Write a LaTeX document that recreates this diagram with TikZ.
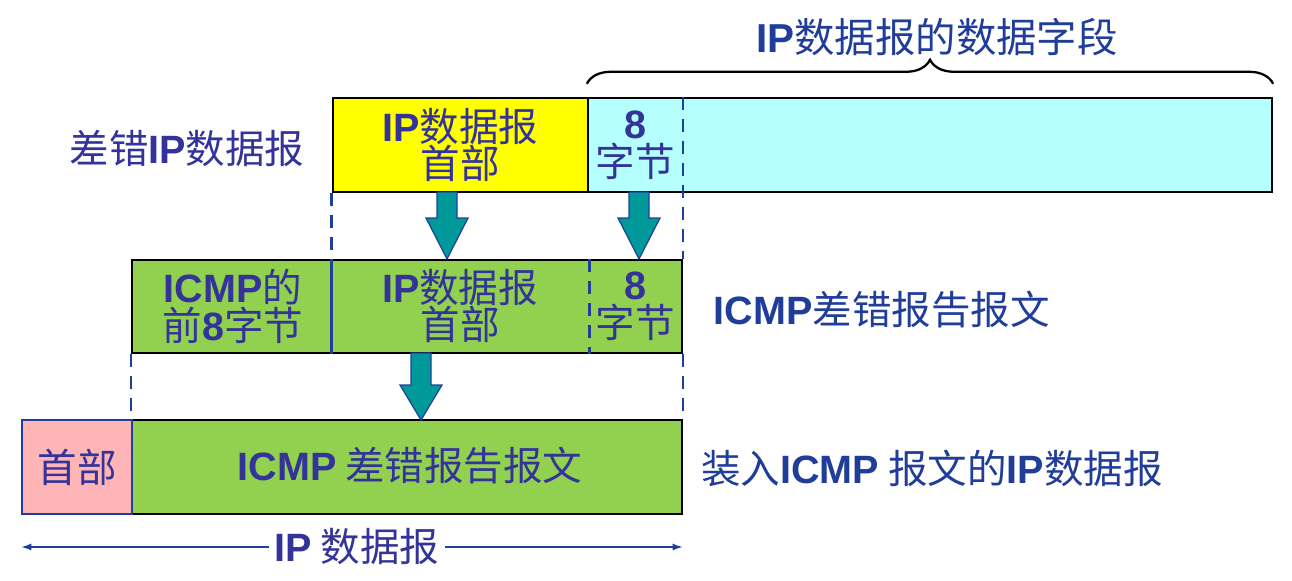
\documentclass[tikz,border=0pt]{standalone}
\usepackage{fontspec}
\setmainfont{Noto Sans CJK SC}
\newfontfamily\enfont{Liberation Sans}
\usetikzlibrary{arrows.meta,decorations.pathreplacing}

\definecolor{txtblue}{HTML}{333399}
\definecolor{lblblue}{HTML}{1F3D99}
\definecolor{lineblue}{HTML}{1F3F9C}
\definecolor{hdryellow}{HTML}{FFFF00}
\definecolor{datacyan}{HTML}{B5FFFF}
\definecolor{msggreen}{HTML}{92D050}
\definecolor{hdrpink}{HTML}{FFB5B5}
\definecolor{arrteal}{HTML}{009999}

\newcommand\en[1]{{\enfont\bfseries #1}}
% fat down arrow: centre x, top, start of head, tip
\newcommand\bigarrow[4]{\draw[fatarrow] (#1-10,#2) -- (#1+10,#2) -- (#1+10,#3) -- (#1+21,#3) -- (#1,#4) -- (#1-21,#3) -- (#1-10,#3) -- cycle;}

\tikzset{
  field/.style={draw=black,line width=1.4pt,inner sep=0pt,minimum height=1.88cm},
  boxtext/.style={text=txtblue,align=center,inner sep=0pt,font=\fontsize{22.5}{21.5}\selectfont},
  sidetext/.style={text=txtblue,inner sep=0pt,font=\fontsize{22.5}{22.5}\selectfont},
  divider/.style={lineblue,line width=1.5pt},
  guide/.style={lineblue,line width=1.5pt,dash pattern=on 0.26cm off 0.18cm},
  fatarrow/.style={fill=arrteal,draw=lineblue,line width=0.7pt},
  span/.style={lineblue,line width=1.1pt,-{Latex[length=6pt,width=4pt]}}
}

\begin{document}
\begin{tikzpicture}[x=0.02cm,y=-0.02cm]
\useasboundingbox (0,0) rectangle (1292,581);

% erroneous IP datagram
\node[field,fill=hdryellow,minimum width=5.1cm] (hdr) at (460.5,145) {};
\node[field,fill=datacyan,minimum width=13.68cm] (data) at (930,145) {};
\node[boxtext] (hdrtxt) at (hdr) {\en{IP}数据报\\首部};
\node[boxtext] (firsttxt) at (635,145) {\en{8}\\字节};
\node[sidetext] (errdg) at (187,148) {差错\en{IP}数据报};
\node[text=lblblue,inner sep=0pt,font=\fontsize{23}{23}\selectfont] (title) at (937,37) {\en{IP}数据报的数据字段};
\draw[decorate,decoration={brace,amplitude=0.48cm},line width=1.3pt] ([yshift=0.26cm]data.north west) -- ([yshift=0.26cm]data.north east);

% ICMP error message
\node[field,fill=msggreen,minimum width=11cm,minimum height=1.86cm] (icmp) at (407,306.5) {};
\node[boxtext] (preftxt) at (233,306) {\en{ICMP}的\\前\en{8}字节};
\node[boxtext] (copytxt) at (460,306) {\en{IP}数据报\\首部};
\node[boxtext] (eighttxt) at (635,306) {\en{8}\\字节};
\node[sidetext,text=lblblue] (icmpmsg) at (882,310) {\en{ICMP}差错报告报文};

% IP datagram carrying the message
\node[field,fill=msggreen,minimum width=11cm] (ipdata) at (407,467) {};
\node[field,draw=lineblue,fill=hdrpink,minimum width=2.2cm] (iphdr) at (77,467) {};
\node[boxtext] (iphdrtxt) at (iphdr) {首部};
\node[boxtext] (ipdatatxt) at (410,466) {\en{ICMP} 差错报告报文};
\node[sidetext,text=lblblue] (ipicmp) at (932,468) {装入\en{ICMP} 报文的\en{IP}数据报};

% guide lines
\draw[guide] (hdr.south west) -- (hdr.south west |- icmp.north);
\draw[divider] (hdr.south west |- icmp.north) -- (hdr.south west |- icmp.south);
\draw[guide] (icmp.north east |- data.north) -- (icmp.north east);
\draw[guide] (hdr.south east |- icmp.north) -- (hdr.south east |- icmp.south);
\draw[guide] (icmp.south west) -- (ipdata.north west);
\draw[guide] (icmp.south east) -- (ipdata.north east);

% copy arrows
\foreach \ax in {447,639}
  {\bigarrow{\ax}{192}{218}{259}}
\bigarrow{421}{353}{385}{420}

% length of the datagram
\node[sidetext,inner sep=3pt] (iplen) at (357,547) {\en{IP} 数据报};
\coordinate (lend) at (iphdr.west |- iplen);
\coordinate (rend) at (ipdata.east |- iplen);
\draw[span] (iplen.west) -- (lend);
\draw[span] (iplen.east) -- (rend);
\end{tikzpicture}
\end{document}
